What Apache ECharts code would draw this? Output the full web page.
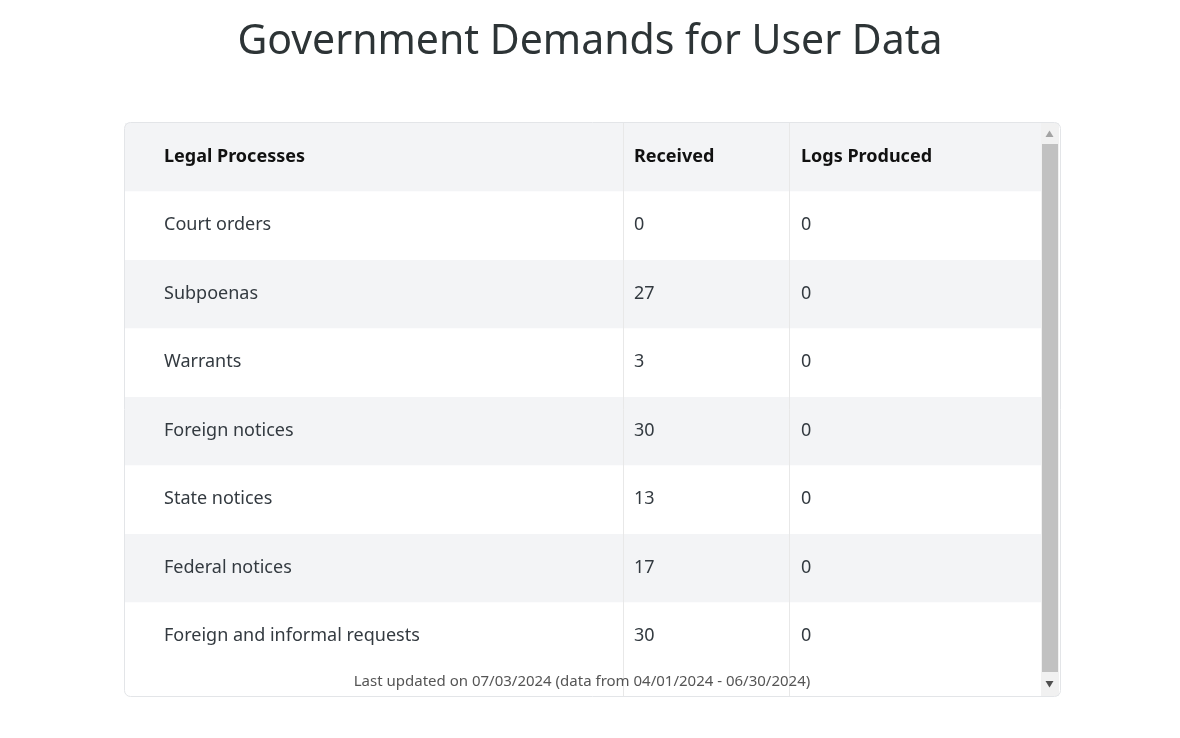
<!DOCTYPE html>
<html>
<head>
<meta charset="utf-8">
<script src="https://cdn.jsdelivr.net/npm/echarts@6/dist/echarts.min.js"></script>
<style>
html,body{margin:0;padding:0;background:#ffffff;}
#chart{width:1180px;height:738px;}
</style>
</head>
<body>
<div id="chart"></div>
<script>
var titleText = 'Government Demands for User Data';
var headers = ['Legal Processes', 'Received', 'Logs Produced'];
var legalProcesses = ['Court orders', 'Subpoenas', 'Warrants', 'Foreign notices', 'State notices', 'Federal notices', 'Foreign and informal requests'];
var received = [0, 27, 3, 30, 13, 17, 30];
var logsProduced = [0, 0, 0, 0, 0, 0, 0];
var footerText = 'Last updated on 07/03/2024 (data from 04/01/2024 - 06/30/2024)';

var columns = [legalProcesses, received, logsProduced];
var FONT = '"Noto Sans", sans-serif';
var ROW_H = 68.5, TOP = 123, VIEW_H = 573;
var colLayout = [
  {left: 125, width: 498, pad: 39},
  {left: 623, width: 166, pad: 11},
  {left: 789, width: 252, pad: 12}
];

var grids = [], xAxes = [], yAxes = [], series = [];
columns.forEach(function (col, c) {
  var L = colLayout[c];
  grids.push({left: L.left, width: L.width, top: TOP, height: VIEW_H, containLabel: false});
  xAxes.push({type: 'value', gridIndex: c, min: 0, max: 1, show: false});
  yAxes.push({
    type: 'value', gridIndex: c, min: 0, max: VIEW_H / ROW_H, inverse: true,
    show: c > 0, z: 5,
    axisLine: {show: c > 0, lineStyle: {color: '#e8e8e8', width: 1}},
    axisTick: {show: false}, axisLabel: {show: false}, splitLine: {show: false}
  });
  var cells = [headers[c]].concat(col);
  series.push({
    type: 'custom',
    xAxisIndex: c, yAxisIndex: c,
    z: 1,
    data: cells.map(function (v, i) { return [i]; }),
    encode: {y: 0},
    renderItem: function (params, api) {
      var r = api.value(0);
      var p0 = api.coord([0, r]);
      var p1 = api.coord([1, r + 1]);
      var isHeader = r === 0;
      var bg = (r % 2 === 0) ? '#f3f4f6' : '#ffffff';
      return {
        type: 'group',
        children: [
          {type: 'rect', shape: {x: p0[0], y: p0[1], width: p1[0] - p0[0], height: p1[1] - p0[1]},
           style: {fill: bg}, z2: 0},
          {type: 'text', x: p0[0] + L.pad, y: (p0[1] + p1[1]) / 2 - 0.5, z2: 2,
           style: {text: String(cells[params.dataIndex]), fill: isHeader ? '#111111' : '#333a40',
                   font: (isHeader ? 'bold 18px ' : '18px ') + FONT,
                   textAlign: 'left', textVerticalAlign: 'middle'}}
        ]
      };
    }
  });
});

var chart = echarts.init(document.getElementById('chart'), null, {renderer: 'canvas'});
chart.setOption({
  backgroundColor: '#ffffff',
  animation: false,
  title: {
    text: titleText, left: 'center', top: 17,
    textStyle: {fontFamily: FONT, fontSize: 41, fontWeight: 'normal', color: '#2d3436'}
  },
  grid: grids, xAxis: xAxes, yAxis: yAxes, series: series,
  graphic: [
    {type: 'rect', z: 10, shape: {x: 1041, y: 123, width: 18, height: 573}, style: {fill: '#f1f1f1'}},
    {type: 'rect', z: 11, shape: {x: 1042, y: 144, width: 16, height: 528}, style: {fill: '#c1c1c1'}},
    {type: 'polygon', z: 11, shape: {points: [[1049.5, 130.5], [1045.5, 137], [1053.5, 137]]}, style: {fill: '#a3a3a3'}},
    {type: 'polygon', z: 11, shape: {points: [[1045.5, 681], [1053.5, 681], [1049.5, 687.5]]}, style: {fill: '#505050'}},
    {type: 'rect', z: 12, shape: {x: 124.5, y: 122.5, width: 936, height: 574, r: 6},
     style: {fill: 'none', stroke: '#e3e5e8', lineWidth: 1}},
    {type: 'text', z: 12, x: 582, y: 682,
     style: {text: footerText, font: '15px ' + FONT, fill: '#555555', textAlign: 'center', textVerticalAlign: 'middle'}}
  ]
});
</script>
</body>
</html>
